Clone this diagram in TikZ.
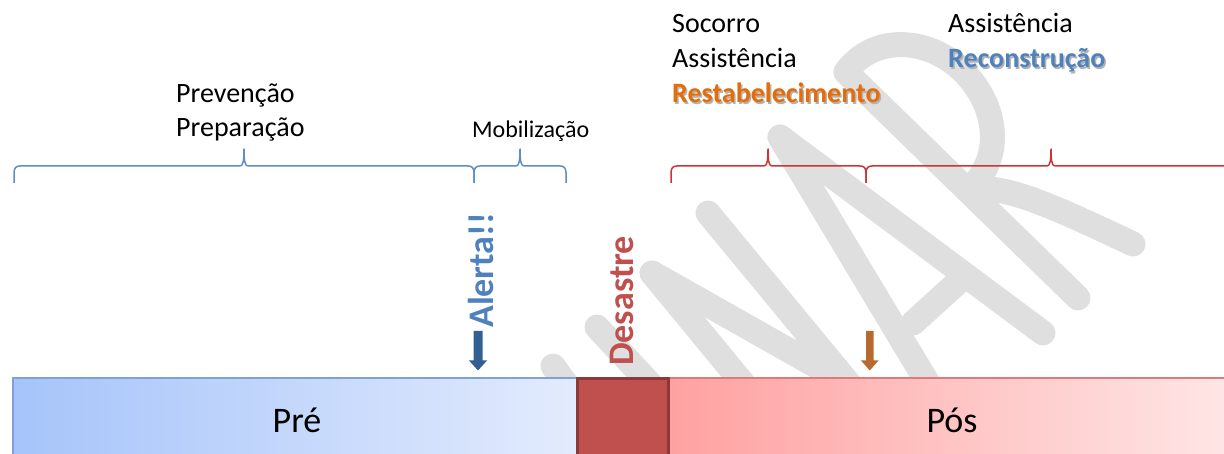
\documentclass[tikz,border=0pt]{standalone}
\usepackage{fontspec}
\setmainfont{Carlito}
\definecolor{wm}{HTML}{DFDFDF}
\definecolor{preL}{HTML}{A6C4FA}
\definecolor{preR}{HTML}{E3EBFD}
\definecolor{preB}{HTML}{7FA2D6}
\definecolor{posL}{HTML}{FFA1A1}
\definecolor{posR}{HTML}{FFE6E6}
\definecolor{posB}{HTML}{DC7B7B}
\definecolor{desF}{HTML}{C0504D}
\definecolor{desB}{HTML}{8B3A39}
\definecolor{blueT}{HTML}{4F81BD}
\definecolor{orangeT}{HTML}{E46C0A}
\definecolor{arrB}{HTML}{335F92}
\definecolor{arrO}{HTML}{B8692F}
\definecolor{brB}{HTML}{5E8DC8}
\definecolor{brR}{HTML}{CC3535}
\newcommand\PhaseBrace[4]{%
  \draw[#4, line width=1.5pt, line join=round]
    (#1,183) -- (#1,173) .. controls (#1,168) and (#1+2,166) .. (#1+6,166)
    -- (#2-4,166) .. controls (#2-1,166) and (#2,161) .. (#2,149)
    .. controls (#2,161) and (#2+1,166) .. (#2+4,166)
    -- (#3-6,166) .. controls (#3-2,166) and (#3,168) .. (#3,173) -- (#3,183);}
\tikzset{
  lbl/.style={inner sep=0pt, anchor=base west, font=\fontsize{28}{33}\selectfont},
  lblsmall/.style={inner sep=0pt, anchor=base west, font=\fontsize{24}{29}\selectfont},
  lblbold/.style={inner sep=0pt, anchor=base west, font=\fontsize{28}{33}\selectfont\bfseries},
  shadowtxt/.style={text=black!30},
  vtxt/.style={inner sep=0pt, anchor=base west, rotate=90, font=\fontsize{36}{40}\selectfont\bfseries},
  bartxt/.style={inner sep=0pt, anchor=base, font=\fontsize{36}{40}\selectfont},
  wmstroke/.style={draw=wm, line width=25pt, line cap=round, line join=round}
}
\begin{document}
\begin{tikzpicture}[x=1pt,y=-1pt]
\useasboundingbox (0,0) rectangle (1224,454);
\clip (0,0) rectangle (1224,454);
\fill[white] (0,0) rectangle (1224,454);
% watermark
\draw[wmstroke] (553,366) -- (600,430);
\draw[wmstroke] (597,327) -- (665,400);
\draw[wmstroke] (652,273) -- (760,404);
\draw[wmstroke] (652,273) -- (850,385);
\draw[wmstroke] (708,213) -- (850,385);
\draw[wmstroke] (780,137) -- (935,395);
\draw[wmstroke] (780,137) -- (1043,333);
\draw[wmstroke] (913,323) -- (957,283);
\draw[wmstroke] (846,72) -- (1078,298);
\draw[wmstroke] (846,72) .. controls (880,25) and (958,40) .. (986,105)
  .. controls (1000,140) and (990,172) .. (968,190)
  .. controls (1000,185) and (1030,195) .. (1133,244);
% bars
\fill[left color=preL, right color=preR] (13,378) rectangle (576,460);
\draw[preB, line width=1.3pt] (13,460) -- (13,378) -- (576,378);
\fill[left color=posL, right color=posR] (670,378) rectangle (1230,460);
\draw[posB, line width=1.3pt] (670,378) -- (1230,378);
\draw[fill=desF, draw=desB, line width=3pt] (577.5,378.5) rectangle (668.5,462);
\node[bartxt] (pre) at (297,432) {Pré};
\node[bartxt] (pos) at (952,432) {Pós};
% braces
\PhaseBrace{14}{244}{474}{brB}
\PhaseBrace{474}{520}{566}{brB}
\PhaseBrace{671}{768}{866}{brR}
\PhaseBrace{866}{1051}{1236}{brR}
% labels
\node[lbl] (prev) at (176,103) {Prevenção};
\node[lbl] (prep) at (176,137) {Preparação};
\node[lblsmall] (mob) at (472,138) {Mobilização};
\node[lbl] (soc) at (672,33) {Socorro};
\node[lbl] (assA) at (672,68) {Assistência};
\node[lblbold, shadowtxt] (restsh) at (673.5,104.5) {Restabelecimento};
\node[lblbold, text=orangeT] (rest) at (672,103) {Restabelecimento};
\node[lbl] (assB) at (948,33) {Assistência};
\node[lblbold, shadowtxt] (recsh) at (949.5,69.5) {Reconstrução};
\node[lblbold, text=blueT] (rec) at (948,68) {Reconstrução};
% vertical labels
\node[vtxt, text=blueT] (alerta) at (493,328) {Alerta!!};
\node[vtxt, text=desF] (desastre) at (633,366) {Desastre};
% arrows
\fill[arrB] (473.5,331) -- (482.5,331) -- (482.5,360.5) -- (487,360.5) -- (478,370.5) -- (469,360.5) -- (473.5,360.5) -- cycle;
\fill[arrO] (866,331) -- (873.5,331) -- (873.5,360.5) -- (878.5,360.5) -- (869.75,370.5) -- (861,360.5) -- (866,360.5) -- cycle;
\end{tikzpicture}
\end{document}
